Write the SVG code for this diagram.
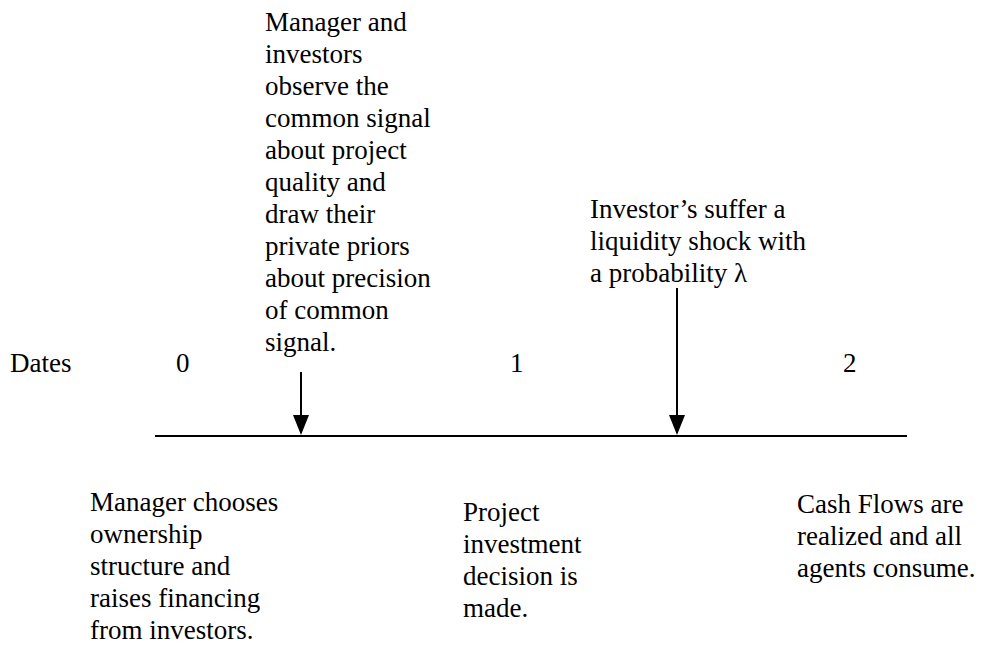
<svg xmlns="http://www.w3.org/2000/svg" width="986" height="647" viewBox="0 0 986 647" font-family="Liberation Serif">
<style>
text { font-family: 'Liberation Serif', serif; font-size: 27px; fill: #000; }
</style>
<defs>
<path id="head" d="M-8,-20 L8,-20 L0,0 Z" fill="#000"/>
</defs>
<rect width="986" height="647" fill="#fff"/>
<g id="connectors" stroke="#000" stroke-width="2" fill="none">
<line x1="155" y1="436" x2="907" y2="436"/>
<line x1="301" y1="372" x2="301" y2="416"/>
<use href="#head" x="301" y="435" stroke="none"/>
<line x1="677" y1="288" x2="677" y2="416"/>
<use href="#head" x="677" y="435" stroke="none"/>
</g>
<g id="dates">
<text style="font-family:'Liberation Serif'" x="10" y="372">Dates</text>
<text style="font-family:'Liberation Serif'" x="176" y="372">0</text>
<text style="font-family:'Liberation Serif'" x="510" y="372">1</text>
<text style="font-family:'Liberation Serif'" x="843" y="372">2</text>
</g>
<g id="signal">
<text style="font-family:'Liberation Serif'" x="265" y="31">Manager and</text>
<text style="font-family:'Liberation Serif'" x="265" y="63">investors</text>
<text style="font-family:'Liberation Serif'" x="265" y="95">observe the</text>
<text style="font-family:'Liberation Serif'" x="265" y="127">common signal</text>
<text style="font-family:'Liberation Serif'" x="265" y="159">about project</text>
<text style="font-family:'Liberation Serif'" x="265" y="191">quality and</text>
<text style="font-family:'Liberation Serif'" x="265" y="223">draw their</text>
<text style="font-family:'Liberation Serif'" x="265" y="255">private priors</text>
<text style="font-family:'Liberation Serif'" x="265" y="287">about precision</text>
<text style="font-family:'Liberation Serif'" x="265" y="319">of common</text>
<text style="font-family:'Liberation Serif'" x="265" y="351">signal.</text>
</g>
<g id="shock">
<text style="font-family:'Liberation Serif'" x="590" y="218">Investor’s suffer a</text>
<text style="font-family:'Liberation Serif'" x="590" y="250">liquidity shock with</text>
<text style="font-family:'Liberation Serif'" x="590" y="282">a probability λ</text>
</g>
<g id="date0">
<text style="font-family:'Liberation Serif'" x="90" y="511">Manager chooses</text>
<text style="font-family:'Liberation Serif'" x="90" y="543">ownership</text>
<text style="font-family:'Liberation Serif'" x="90" y="575">structure and</text>
<text style="font-family:'Liberation Serif'" x="90" y="607">raises financing</text>
<text style="font-family:'Liberation Serif'" x="90" y="639">from investors.</text>
</g>
<g id="date1">
<text style="font-family:'Liberation Serif'" x="463" y="521">Project</text>
<text style="font-family:'Liberation Serif'" x="463" y="553">investment</text>
<text style="font-family:'Liberation Serif'" x="463" y="585">decision is</text>
<text style="font-family:'Liberation Serif'" x="463" y="617">made.</text>
</g>
<g id="date2">
<text style="font-family:'Liberation Serif'" x="797" y="513">Cash Flows are</text>
<text style="font-family:'Liberation Serif'" x="797" y="545">realized and all</text>
<text style="font-family:'Liberation Serif'" x="797" y="577">agents consume.</text>
</g>
</svg>
